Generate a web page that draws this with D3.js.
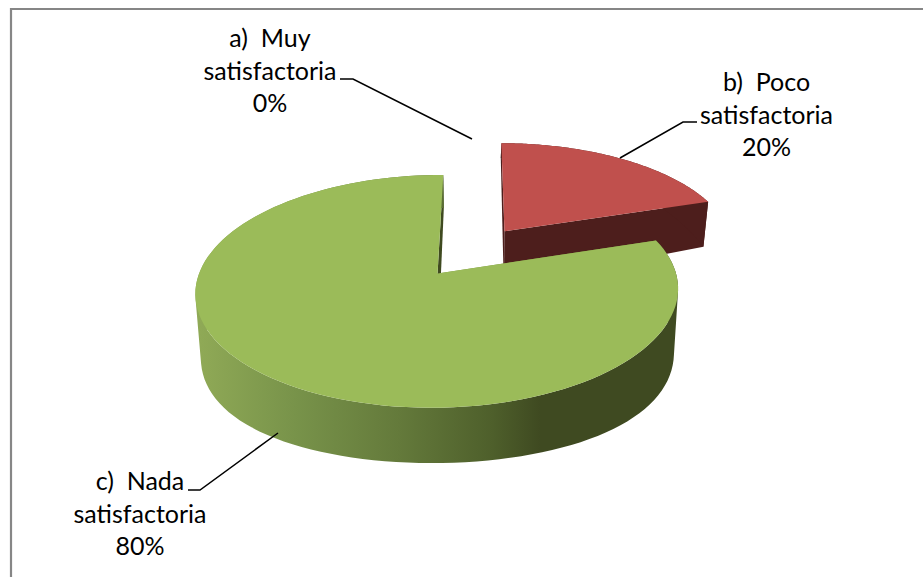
<!DOCTYPE html>
<html><head><meta charset="utf-8">
<script src="https://cdn.jsdelivr.net/npm/d3@7"></script>
<style>html,body{margin:0;background:#fff}svg{display:block}</style></head>
<body><svg id="c" width="923" height="577"></svg>
<script>
const categories = ["a)  Muy satisfactoria", "b)  Poco satisfactoria", "c)  Nada satisfactoria"];
const values = [0, 20, 80];
const percentLabels = ["0%", "20%", "80%"];
const labelLines = [["a)  Muy", "satisfactoria", "0%"], ["b)  Poco", "satisfactoria", "20%"], ["c)  Nada", "satisfactoria", "80%"]];
const labelCentres = [[270, 47], [766.5, 91], [140, 490]];
const leaders = [[[340,79],[353,79],[472,139]], [[697,122],[683,122],[620,158]], [[188,490],[200,490],[278,433]]];
const topColours = ["#4f81bd", "#c0504d", "#9bbb59"];
const sideColours = ["#2a4462", "#4d1e1c", "#3f4a20"];

const svg = d3.select("#c");
const W = 923, H = 577;
const defs = svg.append("defs");
const grad = defs.append("linearGradient").attr("id","gs").attr("gradientUnits","userSpaceOnUse")
  .attr("x1",200).attr("x2",672).attr("y1",0).attr("y2",0);
[[0,"#8fa956"],[0.2,"#78934a"],[0.42,"#647a3b"],[0.62,"#4e5f2b"],[0.72,"#3f4a21"],[1,"#3f4a21"]]
  .forEach(([o,c])=>grad.append("stop").attr("offset",o).attr("stop-color",c));

svg.append("path").attr("d",`M${W} 9H11V${H}`).attr("fill","none").attr("stroke","#868686").attr("stroke-width",2.2);

// perspective projection of the pie plane: an upper and a lower disc
const P = {xc:472, yc:251.7, a:231.4, b:107, k:0.15, lowerY:310.5, lowerB:127.5, shrink:0.98, explode:0.244};
function project(U, V, lower){
  const w = 1 + P.k*V;
  const x = P.a*U/w, y = P.b*V/w;
  return lower ? [P.xc + P.shrink*x, P.lowerY - P.lowerB*V] : [P.xc + x, P.yc - y];
}
const rotation = 0.3*Math.PI/180;
const arcs = d3.pie().sort(null).value(d=>d).startAngle(rotation).endAngle(rotation+2*Math.PI)(values);
const line = d3.line();

function sliceGeom(d){
  const mid = (d.startAngle+d.endAngle)/2;
  const ou = P.explode*Math.sin(mid), ov = P.explode*Math.cos(mid);
  const n = 120, rim = [];
  for(let i=0;i<=n;i++){
    const t = d.startAngle+(d.endAngle-d.startAngle)*i/n;
    rim.push([ou+Math.sin(t), ov+Math.cos(t)]);
  }
  return {hub:[ou,ov], rim};
}
const pt = (p,l)=>project(p[0],p[1],l);

// wall = union of same-winding quads, so folded parts of the sweep do not cancel
function wallPath(rim){
  let out = "";
  for(let i=0;i<rim.length-1;i++){
    let q = [pt(rim[i]),pt(rim[i+1]),pt(rim[i+1],true),pt(rim[i],true)];
    if(d3.polygonArea(q)<0) q = q.reverse();
    out += line(q)+"Z";
  }
  return out;
}

[1,2].forEach(i=>{
  const d = arcs[i]; if(d.value===0) return;
  const g = sliceGeom(d), s = svg.append("g");
  const first = g.rim[0], last = g.rim[g.rim.length-1];
  const side = i===2 ? "url(#gs)" : sideColours[i];
  const faceFill = i===2 ? "#7c9743" : sideColours[i];
  s.append("path").attr("d",line([pt(g.hub),pt(first),pt(first,true),pt(g.hub,true)])+"Z").attr("fill",faceFill);
  s.append("path").attr("d",line([pt(g.hub),pt(last),pt(last,true),pt(g.hub,true)])+"Z").attr("fill",sideColours[i]);
  s.append("path").attr("d",wallPath(g.rim)).attr("fill",side).attr("fill-rule","nonzero");
  const top = [pt(g.hub)].concat(g.rim.map(p=>pt(p)));
  s.append("path").attr("d",line(top)+"Z").attr("fill",topColours[i]);
});

leaders.forEach(l=>svg.append("path").attr("d",line(l)).attr("fill","none").attr("stroke","#000").attr("stroke-width",1.5));

labelLines.forEach((lines,i)=>{
  lines.forEach((t,j)=>svg.append("text")
    .attr("x",labelCentres[i][0]).attr("y",labelCentres[i][1]+j*32.5)
    .attr("text-anchor","middle").attr("font-family","Lato, sans-serif").attr("font-size",25).attr("fill","#000")
    .style("white-space","pre").text(t));
});
</script></body></html>
